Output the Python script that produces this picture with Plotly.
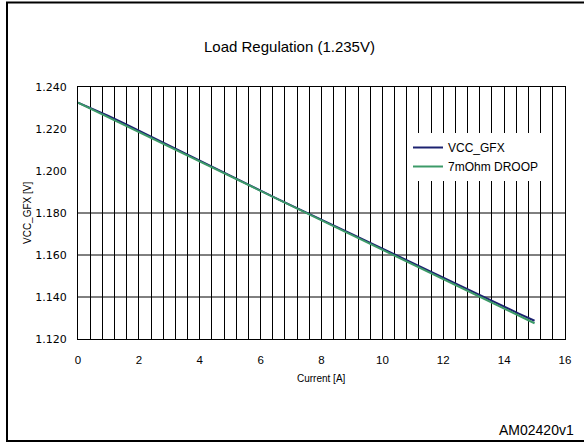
import plotly.graph_objects as go

# ---- data ----
current = [0, 0.5, 1, 1.5, 2, 2.5, 3, 3.5, 4, 4.5, 5, 5.5, 6, 6.5, 7, 7.5,
           8, 8.5, 9, 9.5, 10, 10.5, 11, 11.5, 12, 12.5, 13, 13.5, 14, 14.5, 15]
vcc_gfx = [1.2325, 1.2295, 1.2262, 1.2228, 1.2192, 1.2157, 1.2120, 1.2083,
           1.2047, 1.2011, 1.1976, 1.1941, 1.1906, 1.1871, 1.1836, 1.1801,
           1.1767, 1.1733, 1.1699, 1.1665, 1.1631, 1.1597, 1.1562, 1.1527,
           1.1493, 1.1458, 1.1423, 1.1388, 1.1354, 1.1320, 1.1287]
droop = [1.2325, 1.2290, 1.2255, 1.2220, 1.2185, 1.2150, 1.2115, 1.2080,
         1.2045, 1.2010, 1.1975, 1.1940, 1.1905, 1.1870, 1.1835, 1.1800,
         1.1765, 1.1730, 1.1695, 1.1660, 1.1625, 1.1590, 1.1555, 1.1520,
         1.1485, 1.1450, 1.1415, 1.1380, 1.1345, 1.1310, 1.1275]
hgrid_values = [1.140, 1.160, 1.180]
x_ticks = [0, 2, 4, 6, 8, 10, 12, 14, 16]
y_ticks = [1.120, 1.140, 1.160, 1.180, 1.200, 1.220, 1.240]

W, H = 584, 443
L, R, T, B = 78, 565, 87, 339


def px(x):
    return (x - L) / (R - L)


def py(y):
    return (B - y) / (B - T)


FONT = "Liberation Sans, Arial, sans-serif"

fig = go.Figure()
fig.add_trace(go.Scatter(x=current, y=vcc_gfx, mode="lines", name="VCC_GFX",
                         line=dict(color="#1c2270", width=2)))
fig.add_trace(go.Scatter(x=current, y=droop, mode="lines", name="7mOhm DROOP",
                         line=dict(color="#3c9a68", width=2)))

shapes = []
for v in hgrid_values:
    shapes.append(dict(type="line", xref="x", yref="y", x0=0, x1=16, y0=v, y1=v,
                       line=dict(color="black", width=1), layer="below"))
# outer frame: left, top and bottom rules
shapes.append(dict(type="line", xref="paper", yref="paper",
                   x0=px(7), x1=px(7), y0=py(441), y1=py(2.5),
                   line=dict(color="black", width=2), layer="above"))
shapes.append(dict(type="line", xref="paper", yref="paper",
                   x0=px(6), x1=px(590), y0=py(2.5), y1=py(2.5),
                   line=dict(color="black", width=2), layer="above"))
shapes.append(dict(type="line", xref="paper", yref="paper",
                   x0=px(6), x1=px(590), y0=py(441), y1=py(441),
                   line=dict(color="black", width=2), layer="above"))

fig.update_layout(
    width=W, height=H,
    margin=dict(l=L, r=W - R, t=T, b=H - B),
    paper_bgcolor="white", plot_bgcolor="white",
    font=dict(family=FONT, color="black", size=11),
    showlegend=True,
    legend=dict(x=px(408), y=py(133), xanchor="left", yanchor="top",
                bgcolor="white", borderwidth=0, font=dict(size=12),
                itemwidth=30, tracegroupgap=0),
    shapes=shapes,
    annotations=[
        dict(text="Load Regulation (1.235V)", xref="paper", yref="paper",
             x=px(289), y=py(47), yanchor="middle", showarrow=False,
             font=dict(size=15)),
        dict(text="Current [A]", xref="paper", yref="paper",
             x=0.5, y=py(378), yanchor="middle", showarrow=False,
             font=dict(size=10)),
        dict(text="VCC_GFX [V]", xref="paper", yref="paper",
             x=px(27), y=0.5, xanchor="center", yanchor="middle",
             showarrow=False, textangle=-90, font=dict(size=10)),
        dict(text="AM02420v1", xref="paper", yref="paper",
             x=px(576), y=py(430), xanchor="right", yanchor="middle",
             showarrow=False, font=dict(size=14)),
    ],
)

fig.update_xaxes(range=[0, 16], tickvals=x_ticks, ticks="outside", ticklen=10,
                 tickcolor="rgba(0,0,0,0)", showgrid=True, gridcolor="black",
                 gridwidth=1, showline=True, linecolor="black", linewidth=1,
                 mirror=True, zeroline=False, tickfont=dict(size=11.5),
                 minor=dict(dtick=0.4, showgrid=True, gridcolor="black",
                            gridwidth=1, ticks=""))
fig.update_yaxes(range=[1.120, 1.240], tickvals=y_ticks, tickformat=".3f",
                 ticks="outside", ticklen=8, tickcolor="rgba(0,0,0,0)",
                 showgrid=False, showline=True, linecolor="black", linewidth=1,
                 mirror=True, zeroline=False,
                 tickfont=dict(family="DejaVu Sans", size=11))

fig.write_html("out.html", config={"displayModeBar": False},
               post_script="document.body.style.margin='0px';"
                           "document.body.style.overflow='hidden';")
